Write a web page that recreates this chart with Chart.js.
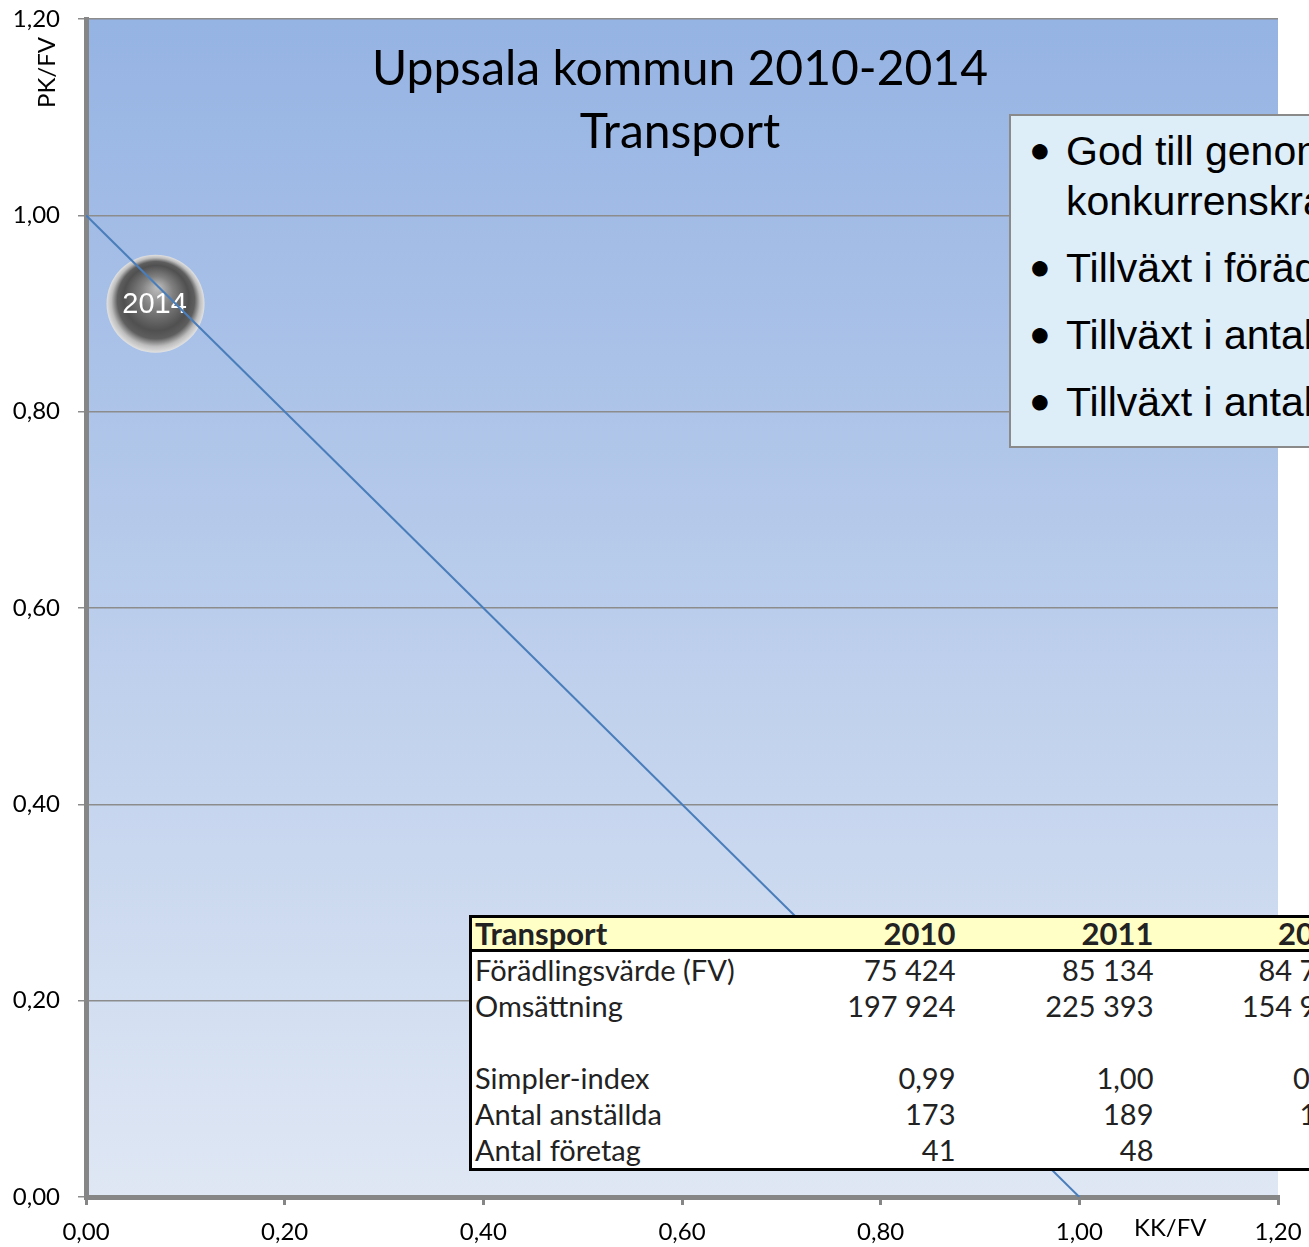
<!DOCTYPE html>
<html>
<head>
<meta charset="utf-8">
<script src="https://cdn.jsdelivr.net/npm/chart.js@4/dist/chart.umd.min.js"></script>
<style>
  html, body { margin: 0; padding: 0; background: #fff; overflow: hidden; }
  #wrap { position: relative; width: 1309px; height: 1247px; overflow: hidden; }
  #chart { position: absolute; left: 0; top: 0; }
  .title { position: absolute; left: 230px; width: 900px; top: 35px; text-align: center;
    font-family: Lato, sans-serif; font-size: 48px; line-height: 63px; color: #000; white-space: nowrap; }
  .axis-title { position: absolute; font-family: Lato, sans-serif; font-size: 24px; color: #000; }
  #ytitle { left: 10px; top: 58px; transform: rotate(-90deg); }
  #xtitle { left: 1134px; top: 1212px; }
  #notes { position: absolute; left: 1009px; top: 114px; width: 400px; height: 320px;
    background: #ddeef9; border: 2px solid #8a8a8a; box-sizing: content-box;
    font-family: "Liberation Sans", Arial, sans-serif; font-size: 41px; color: #000;
    padding-top: 10px; }
  #notes .item { position: relative; padding-left: 55px; line-height: 50px; margin-bottom: 17px; white-space: nowrap; }
  #notes .item::before { content: "\25CF"; position: absolute; left: 18px; top: -1px; font-size: 36px; }
  #tbl { position: absolute; left: 469px; top: 915px; border-collapse: collapse; border: 3px solid #000;
    font-family: Lato, sans-serif; font-size: 29px; color: #222; background: #fff; table-layout: fixed; width: 884px; }
  #tbl td { padding: 0 3px; height: 36px; line-height: 36px; white-space: nowrap; overflow: hidden; }
  #tbl td.num { text-align: right; }
  #tbl tr.head td { background: #ffffc6; font-weight: bold; font-size: 31px; height: 31px; line-height: 31px;
    border-bottom: 3px solid #000; }
</style>
</head>
<body>
<div id="wrap">
  <canvas id="chart" width="1309" height="1247"></canvas>
  <div class="title">Uppsala kommun 2010-2014<br>Transport</div>
  <div class="axis-title" id="ytitle">PK/FV</div>
  <div class="axis-title" id="xtitle">KK/FV</div>
  <div id="notes"></div>
  <table id="tbl"></table>
</div>
<script>
// axis ticks
const tickValues = [0, 0.2, 0.4, 0.6, 0.8, 1.0, 1.2];
const tickLabels = ['0,00', '0,20', '0,40', '0,60', '0,80', '1,00', '1,20'];

// bubble series (KK/FV, PK/FV)
const bubbleYears = ['2014'];
const bubbleKK = [0.07];
const bubblePK = [0.91];

// reference diagonal KK/FV + PK/FV = 1
const diagKK = [0, 1];
const diagPK = [1, 0];

// notes box
const notes = [
    'God till genomsnittlig<br>konkurrenskraft',
    'Tillväxt i förädlingsvärde',
    'Tillväxt i antal anställda',
    'Tillväxt i antal företag'
];

// table
const tableTitle = 'Transport';
const tableYears = ['2010', '2011', '2012'];
const rowLabels = ['Förädlingsvärde (FV)', 'Omsättning', '', 'Simpler-index', 'Antal anställda', 'Antal företag'];
const rowFV = ['75 424', '85 134', '84 750'];
const rowOms = ['197 924', '225 393', '154 950'];
const rowBlank = ['', '', ''];
const rowSimpler = ['0,99', '1,00', '0,98'];
const rowAnst = ['173', '189', '180'];
const rowForetag = ['41', '48', '45'];

document.getElementById('notes').innerHTML = notes.map(n => `<div class="item">${n}</div>`).join('');

const colWidths = [290, 198, 198, 198];
const rows = [rowFV, rowOms, rowBlank, rowSimpler, rowAnst, rowForetag];
let html = '<colgroup>' + colWidths.map(w => `<col style="width:${w}px">`).join('') + '</colgroup>';
html += `<tr class="head"><td>${tableTitle}</td>` + tableYears.map(y => `<td class="num">${y}</td>`).join('') + '</tr>';
rows.forEach((r, i) => {
    html += `<tr><td>${rowLabels[i]}</td>` + r.map(v => `<td class="num">${v}</td>`).join('') + '</tr>';
});
document.getElementById('tbl').innerHTML = html;

const plotBackground = {
    id: 'plotBackground',
    beforeDraw(chart) {
        const { ctx, chartArea: a } = chart;
        ctx.save();
        const g = ctx.createLinearGradient(0, a.top, 0, a.bottom);
        g.addColorStop(0, '#95b3e3');
        g.addColorStop(1, '#dfe7f4');
        ctx.fillStyle = g;
        ctx.fillRect(a.left, a.top, a.right - a.left, a.bottom - a.top);
        ctx.restore();
    }
};

const bubbleLabels = {
    id: 'bubbleLabels',
    afterDatasetDraw(chart, args) {
        if (args.index !== 0) return;
        const { ctx } = chart;
        ctx.save();
        ctx.fillStyle = '#ffffff';
        ctx.font = '29px "Liberation Sans", Arial, sans-serif';
        ctx.textAlign = 'center';
        ctx.textBaseline = 'middle';
        args.meta.data.forEach((el, i) => ctx.fillText(bubbleYears[i], el.x - 1, el.y + 1));
        ctx.restore();
    }
};

function sphereFill(context) {
    if (context.type !== 'data') return '#555';
    const chart = context.chart;
    const cx = chart.scales.x.getPixelForValue(context.raw.x);
    const cy = chart.scales.y.getPixelForValue(context.raw.y);
    if (!isFinite(cx) || !isFinite(cy)) return '#555';
    const r = 49;
    const g = chart.ctx.createRadialGradient(cx + 2, cy - 16, 2, cx, cy, r);
    g.addColorStop(0, '#b8b8b8');
    g.addColorStop(0.3, '#808080');
    g.addColorStop(0.65, '#505050');
    g.addColorStop(0.78, '#5e5e5e');
    g.addColorStop(0.9, '#bdbdbd');
    g.addColorStop(1, '#e2e2e2');
    return g;
}

const fmt = (v, i) => tickLabels[i];

new Chart(document.getElementById('chart'), {
    type: 'bubble',
    data: {
        datasets: [{
            label: 'Transport',
            data: bubbleKK.map((x, i) => ({ x: x, y: bubblePK[i] })),
            backgroundColor: sphereFill,
            borderWidth: 0,
            radius: 49,
            order: 2
        }, {
            type: 'scatter',
            label: 'diagonal',
            data: diagKK.map((x, i) => ({ x: x, y: diagPK[i] })),
            showLine: true,
            borderColor: '#4a7ebb',
            borderWidth: 2,
            pointRadius: 0,
            order: 1
        }]
    },
    options: {
        responsive: false,
        animation: false,
        events: [],
        layout: { autoPadding: false, padding: { left: 0, top: 19, right: 31, bottom: 0 } },
        plugins: {
            legend: { display: false },
            tooltip: { enabled: false },
            title: { display: false }
        },
        scales: {
            x: {
                type: 'linear',
                min: 0,
                max: 1.2,
                afterBuildTicks: s => { s.ticks = tickValues.map(v => ({ value: v })); },
                afterFit: s => { s.height = 50; s.paddingLeft = 0; s.paddingRight = 0; },
                ticks: {
                    callback: fmt,
                    color: '#000',
                    font: { family: 'Lato', size: 24 },
                    padding: 13,
                    maxRotation: 0,
                    autoSkip: false
                },
                grid: { drawOnChartArea: false, drawTicks: true, tickLength: 8, color: '#868686', lineWidth: 3 },
                border: { color: '#868686', width: 5 }
            },
            y: {
                type: 'linear',
                min: 0,
                max: 1.2,
                afterBuildTicks: s => { s.ticks = tickValues.map(v => ({ value: v })); },
                afterFit: s => { s.width = 86; s.paddingTop = 0; s.paddingBottom = 0; },
                ticks: {
                    callback: fmt,
                    color: '#000',
                    font: { family: 'Lato', size: 24 },
                    padding: 18,
                    autoSkip: false
                },
                grid: { color: '#8c8c8c', lineWidth: 1.5, tickLength: 8 },
                border: { color: '#868686', width: 5 }
            }
        }
    },
    plugins: [plotBackground, bubbleLabels]
});
</script>
</body>
</html>
